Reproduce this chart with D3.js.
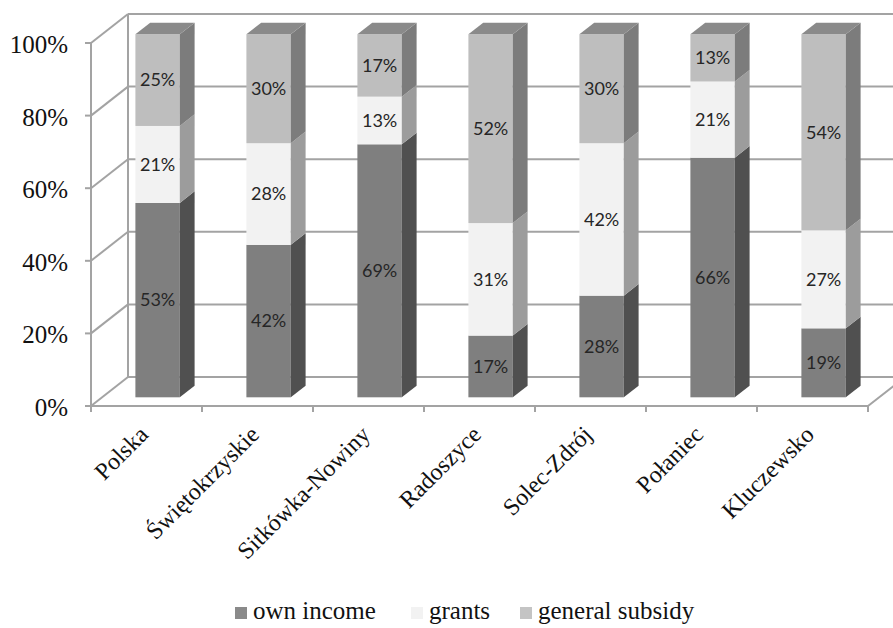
<!DOCTYPE html>
<html>
<head>
<meta charset="utf-8">
<script src="https://cdn.jsdelivr.net/npm/d3@7/dist/d3.min.js"></script>
<style>
  html, body { margin: 0; padding: 0; background: #fff; }
  svg { display: block; }
</style>
</head>
<body>
<svg id="chart" width="893" height="628"></svg>
<script>
// Budget revenue structure of the selected units (100% stacked 3D columns)
const categories = ["Polska", "Świętokrzyskie", "Sitkówka-Nowiny", "Radoszyce", "Solec-Zdrój", "Połaniec", "Kluczewsko"];
const seriesNames = ["own income", "grants", "general subsidy"];
const ownIncome = [53, 42, 69, 17, 28, 66, 19];
const grants = [21, 28, 13, 31, 42, 21, 27];
const generalSubsidy = [25, 30, 17, 52, 30, 13, 54];
const yTicks = [0, 0.2, 0.4, 0.6, 0.8, 1];

const seriesValues = [ownIncome, grants, generalSubsidy];

const SERIF = '"Liberation Serif", "Times New Roman", serif';
const SANS = 'Lato, "Open Sans", sans-serif';

// face colours per series: front, side, top
const palette = [
  { front: "#7f7f7f", side: "#505050", top: "#6a6a6a" },
  { front: "#f2f2f2", side: "#9c9c9c", top: "#c8c8c8" },
  { front: "#bebebe", side: "#7c7c7c", top: "#8a8a8a" }
];
const legendColors = ["#8a8a8a", "#f2f2f2", "#c4c4c4"];

const svg = d3.select("#chart");

// front plane of the plot box
const x0 = 91, x1 = 868;
const x = d3.scaleBand().domain(categories).range([x0, x1]).padding(0);
const y = d3.scaleLinear().domain([0, 1]).range([406, 43]);

// depth vector of the 3D box
const depth = { dx: 37, dy: -29 };
const barFrontF = 0.3, barBackF = 0.7;
const barWidth = x.bandwidth() * 0.4;

const gridColor = "#a3a3a3";
const grid = svg.append("g").attr("fill", "none").attr("stroke", gridColor).attr("stroke-width", 2);

// back wall gridlines and side wall diagonals
yTicks.forEach(t => {
  grid.append("line")
    .attr("x1", x0 + depth.dx).attr("x2", x1 + depth.dx + 40)
    .attr("y1", y(t) + depth.dy).attr("y2", y(t) + depth.dy);
  grid.append("line")
    .attr("x1", x0).attr("y1", y(t))
    .attr("x2", x0 + depth.dx).attr("y2", y(t) + depth.dy);
});
// back wall left edge
grid.append("line")
  .attr("x1", x0 + depth.dx).attr("x2", x0 + depth.dx)
  .attr("y1", y(0) + depth.dy).attr("y2", y(1) + depth.dy);
// floor right edge
grid.append("line")
  .attr("x1", x1).attr("y1", y(0))
  .attr("x2", x1 + depth.dx).attr("y2", y(0) + depth.dy);

// front axes
const axisG = svg.append("g").attr("stroke", gridColor).attr("stroke-width", 2).attr("fill", "none");
axisG.append("line").attr("x1", x0).attr("x2", x0).attr("y1", y(0)).attr("y2", y(1));
axisG.append("line").attr("x1", x0).attr("x2", x1).attr("y1", y(0)).attr("y2", y(0));
yTicks.forEach(t => {
  axisG.append("line").attr("x1", x0 - 6).attr("x2", x0).attr("y1", y(t)).attr("y2", y(t));
});
d3.range(categories.length + 1).forEach(i => {
  const xx = x0 + i * x.step();
  axisG.append("line").attr("x1", xx).attr("x2", xx).attr("y1", y(0)).attr("y2", y(0) + 6);
});

// y tick labels
svg.append("g")
  .selectAll("text")
  .data(yTicks)
  .join("text")
  .style("font-family", SERIF)
  .attr("x", 68)
  .attr("y", d => y(d))
  .attr("dy", "0.4em")
  .attr("text-anchor", "end")
  .attr("font-size", 25)
  .attr("fill", "#111")
  .text(d3.format(".0%"));

// category labels
svg.append("g")
  .selectAll("text")
  .data(categories)
  .join("text")
  .style("font-family", SERIF)
  .attr("transform", d => `translate(${x(d) + x.bandwidth() / 2 + 3},${y(0) + 30}) rotate(-45)`)
  .attr("text-anchor", "end")
  .attr("font-size", 24)
  .attr("fill", "#111")
  .text(d => d);

// stacked bars
const bars = svg.append("g");
const fx = barFrontF * depth.dx, fy = barFrontF * depth.dy;
const sdx = (barBackF - barFrontF) * depth.dx, sdy = (barBackF - barFrontF) * depth.dy;

categories.forEach((cat, i) => {
  const vals = seriesValues.map(s => s[i]);
  const total = d3.sum(vals);
  const left = x(cat) + (x.bandwidth() - barWidth) / 2 + fx;
  const right = left + barWidth;
  let acc = 0;
  const g = bars.append("g");
  vals.forEach((v, s) => {
    const a = acc / total, b = (acc + v) / total;
    acc += v;
    const yb = y(a) + fy, yt = y(b) + fy;
    const col = palette[s];
    // front face
    g.append("rect")
      .attr("x", left).attr("y", yt)
      .attr("width", barWidth).attr("height", yb - yt)
      .attr("fill", col.front);
    // right side face
    g.append("path")
      .attr("d", `M${right},${yb}L${right},${yt}L${right + sdx},${yt + sdy}L${right + sdx},${yb + sdy}Z`)
      .attr("fill", col.side);
    // top face on the last segment
    if (s === vals.length - 1) {
      g.append("path")
        .attr("d", `M${left},${yt}L${right},${yt}L${right + sdx},${yt + sdy}L${left + sdx},${yt + sdy}Z`)
        .attr("fill", col.top);
    }
    // value label
    g.append("text")
      .style("font-family", SANS)
      .attr("x", left + barWidth / 2)
      .attr("y", (yb + yt) / 2)
      .attr("dy", "0.35em")
      .attr("text-anchor", "middle")
      .attr("font-size", 18)
      .attr("fill", "#262626")
      .text(v + "%");
  });
});

// legend
const legendX = [235, 411, 520];
const legend = svg.append("g");
seriesNames.forEach((name, s) => {
  const lg = legend.append("g").attr("transform", `translate(${legendX[s]},0)`);
  lg.append("rect").attr("x", 0).attr("y", 607).attr("width", 12).attr("height", 12).attr("fill", legendColors[s]);
  lg.append("text")
    .style("font-family", SERIF)
    .attr("x", 18).attr("y", 619)
    .attr("font-size", 25)
    .attr("fill", "#111")
    .text(name);
});
</script>
</body>
</html>
